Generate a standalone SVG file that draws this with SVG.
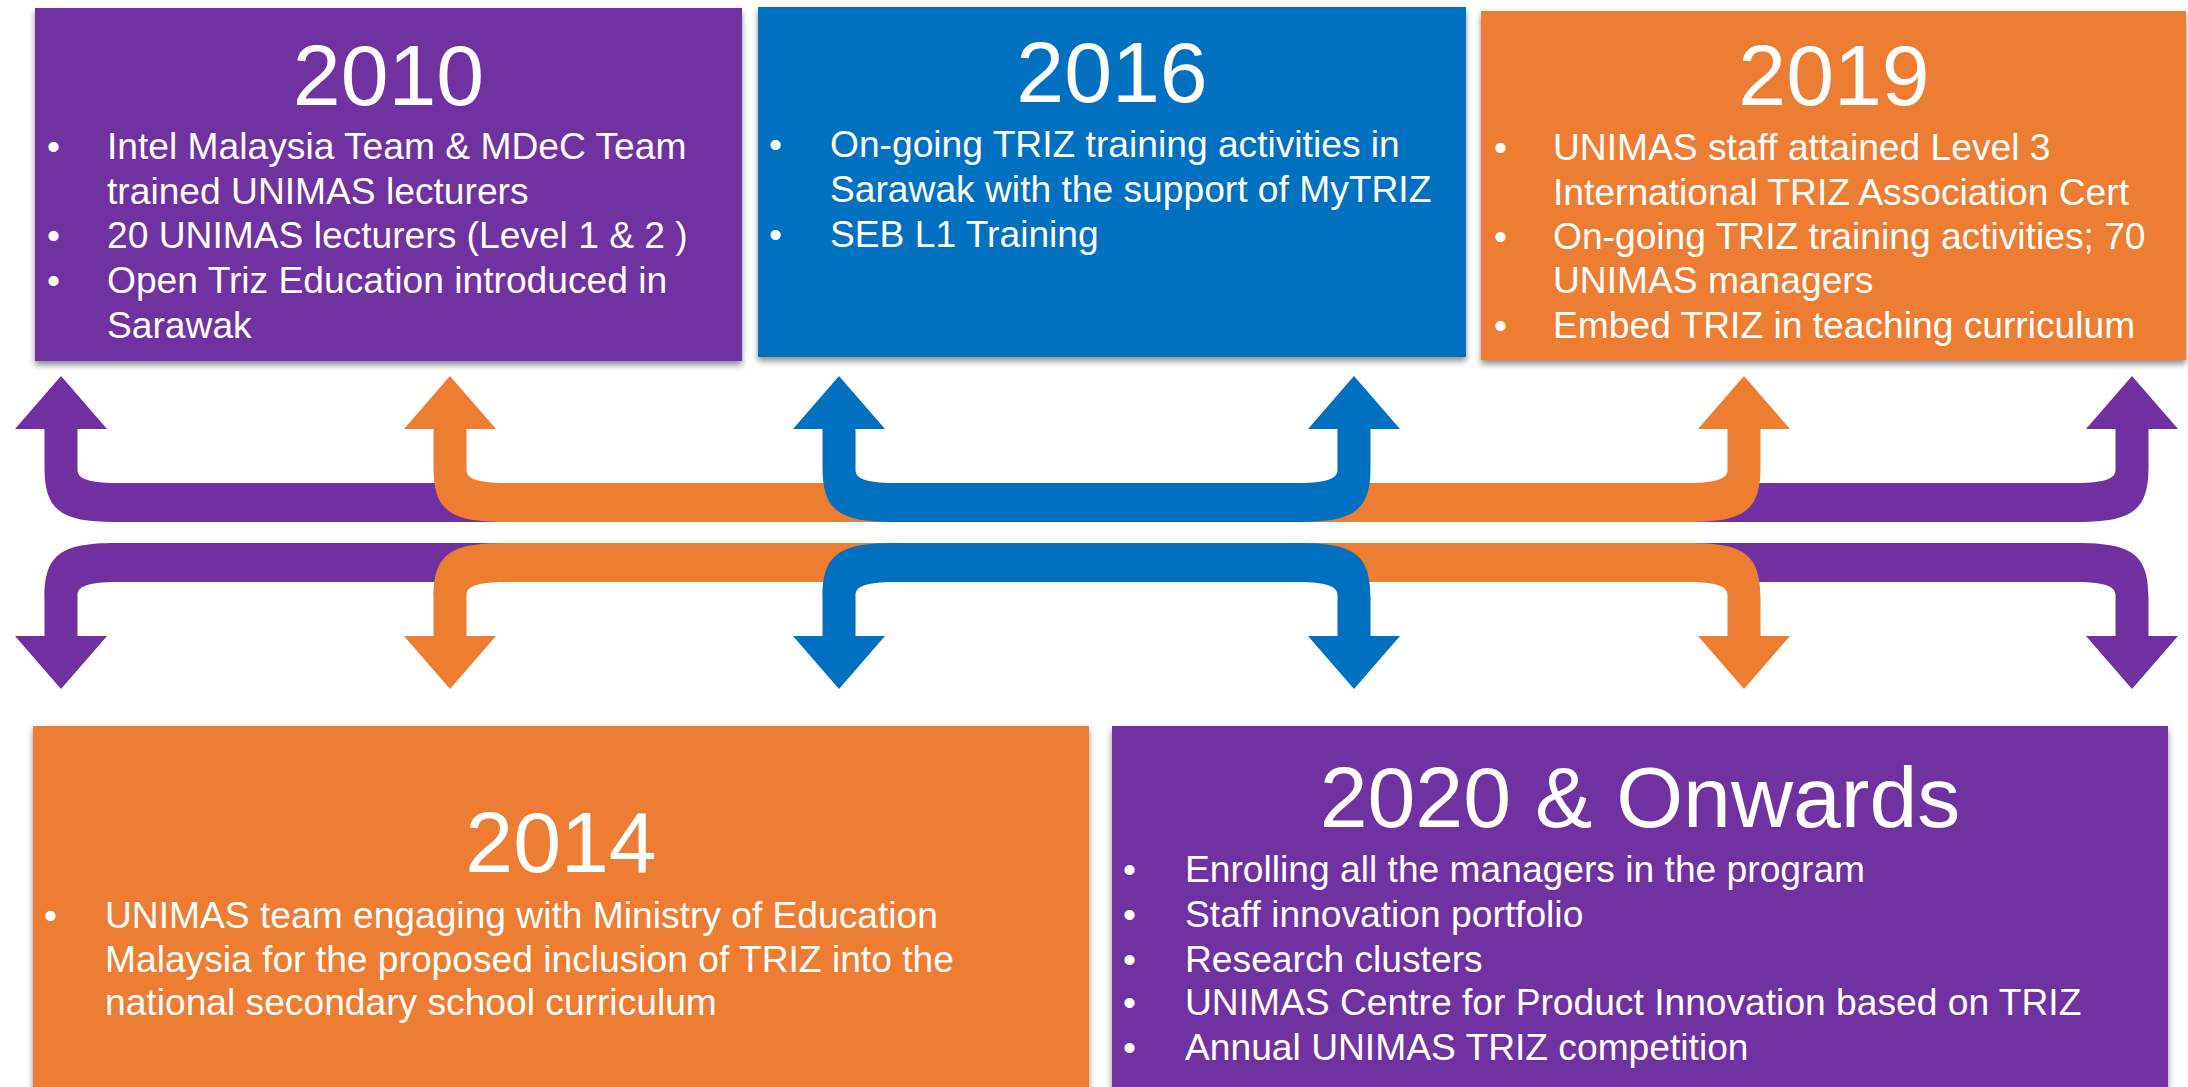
<svg xmlns="http://www.w3.org/2000/svg" xmlns:xlink="http://www.w3.org/1999/xlink" width="2188" height="1087" viewBox="0 0 2188 1087">
<style>
.box{filter:url(#sh);}
.purple{fill:#7030A0;}
.orange{fill:#ED7D31;}
.blue{fill:#0070C0;}
.title{font-family:"Liberation Sans",Arial,sans-serif;font-size:86px;fill:#FFFFFF;text-anchor:middle;}
.txt{font-family:"Liberation Sans",Arial,sans-serif;font-size:37.2px;fill:#FFFFFF;}
</style>
<defs>
<filter id="sh" x="-5%" y="-5%" width="110%" height="115%">
<feDropShadow dx="0" dy="4" stdDeviation="3" flood-color="#000" flood-opacity="0.45"/>
</filter>
<path id="c-purple" d="M 61,376 L 107,429 L 77.5,429 L 77.5,470 C 77.5,478 87,483 116,483 L 2077,483 C 2106,483 2115.5,478 2115.5,470 L 2115.5,429 L 2086,429 L 2132,376 L 2178,429 L 2148.5,429 L 2148.5,467 C 2148.5,510 2133,522 2077,522 L 116,522 C 60,522 44.5,510 44.5,467 L 44.5,429 L 15,429 Z"/>
<path id="c-orange" d="M 450,376 L 496,429 L 466.5,429 L 466.5,470 C 466.5,478 476,483 505,483 L 1689,483 C 1718,483 1727.5,478 1727.5,470 L 1727.5,429 L 1698,429 L 1744,376 L 1790,429 L 1760.5,429 L 1760.5,467 C 1760.5,510 1745,522 1689,522 L 505,522 C 449,522 433.5,510 433.5,467 L 433.5,429 L 404,429 Z"/>
<path id="c-blue" d="M 839,376 L 885,429 L 855.5,429 L 855.5,470 C 855.5,478 865,483 894,483 L 1299,483 C 1328,483 1337.5,478 1337.5,470 L 1337.5,429 L 1308,429 L 1354,376 L 1400,429 L 1370.5,429 L 1370.5,467 C 1370.5,510 1355,522 1299,522 L 894,522 C 838,522 822.5,510 822.5,467 L 822.5,429 L 793,429 Z"/>
</defs>
<rect width="2188" height="1087" fill="#FFFFFF"/>

<g id="connectors">
<use xlink:href="#c-purple" href="#c-purple" class="purple"/>
<use xlink:href="#c-purple" href="#c-purple" class="purple" transform="matrix(1 0 0 -1 0 1065)"/>
<use xlink:href="#c-orange" href="#c-orange" class="orange"/>
<use xlink:href="#c-orange" href="#c-orange" class="orange" transform="matrix(1 0 0 -1 0 1065)"/>
<use xlink:href="#c-blue" href="#c-blue" class="blue"/>
<use xlink:href="#c-blue" href="#c-blue" class="blue" transform="matrix(1 0 0 -1 0 1065)"/>
</g>

<g id="node-2010">
<rect class="box purple" x="35" y="8" width="707" height="353"/>
<text class="title" x="388.5" y="105">2010</text>
<text class="txt" x="47" y="159">•</text>
<text class="txt" x="107" y="159">Intel Malaysia Team &amp; MDeC Team</text>
<text class="txt" x="107" y="204">trained UNIMAS lecturers</text>
<text class="txt" x="47" y="248">•</text>
<text class="txt" x="107" y="248">20 UNIMAS lecturers (Level 1 &amp; 2 )</text>
<text class="txt" x="47" y="293">•</text>
<text class="txt" x="107" y="293">Open Triz Education introduced in</text>
<text class="txt" x="107" y="338">Sarawak</text>
</g>

<g id="node-2016">
<rect class="box blue" x="758" y="7" width="708" height="350"/>
<text class="title" x="1112" y="102">2016</text>
<text class="txt" x="769" y="157">•</text>
<text class="txt" x="830" y="157">On-going TRIZ training activities in</text>
<text class="txt" x="830" y="202">Sarawak with the support of MyTRIZ</text>
<text class="txt" x="769" y="247">•</text>
<text class="txt" x="830" y="247">SEB L1 Training</text>
</g>

<g id="node-2019">
<rect class="box orange" x="1481" y="11" width="705" height="349"/>
<text class="title" x="1834" y="105">2019</text>
<text class="txt" x="1494" y="160">•</text>
<text class="txt" x="1553" y="160">UNIMAS staff attained Level 3</text>
<text class="txt" x="1553" y="205">International TRIZ Association Cert</text>
<text class="txt" x="1494" y="249">•</text>
<text class="txt" x="1553" y="249">On-going TRIZ training activities; 70</text>
<text class="txt" x="1553" y="293">UNIMAS managers</text>
<text class="txt" x="1494" y="338">•</text>
<text class="txt" x="1553" y="338">Embed TRIZ in teaching curriculum</text>
</g>

<g id="node-2014">
<rect class="box orange" x="33" y="726" width="1056" height="370"/>
<text class="title" x="561" y="872">2014</text>
<text class="txt" x="44" y="928">•</text>
<text class="txt" x="105" y="928">UNIMAS team engaging with Ministry of Education</text>
<text class="txt" x="105" y="972">Malaysia for the proposed inclusion of TRIZ into the</text>
<text class="txt" x="105" y="1015">national secondary school curriculum</text>
</g>

<g id="node-2020">
<rect class="box purple" x="1112" y="726" width="1056" height="370"/>
<text class="title" x="1640" y="827">2020 &amp; Onwards</text>
<text class="txt" x="1123" y="882">•</text>
<text class="txt" x="1185" y="882">Enrolling all the managers in the program</text>
<text class="txt" x="1123" y="927">•</text>
<text class="txt" x="1185" y="927">Staff innovation portfolio</text>
<text class="txt" x="1123" y="972">•</text>
<text class="txt" x="1185" y="972">Research clusters</text>
<text class="txt" x="1123" y="1015">•</text>
<text class="txt" x="1185" y="1015">UNIMAS Centre for Product Innovation based on TRIZ</text>
<text class="txt" x="1123" y="1060">•</text>
<text class="txt" x="1185" y="1060">Annual UNIMAS TRIZ competition</text>
</g>
</svg>
